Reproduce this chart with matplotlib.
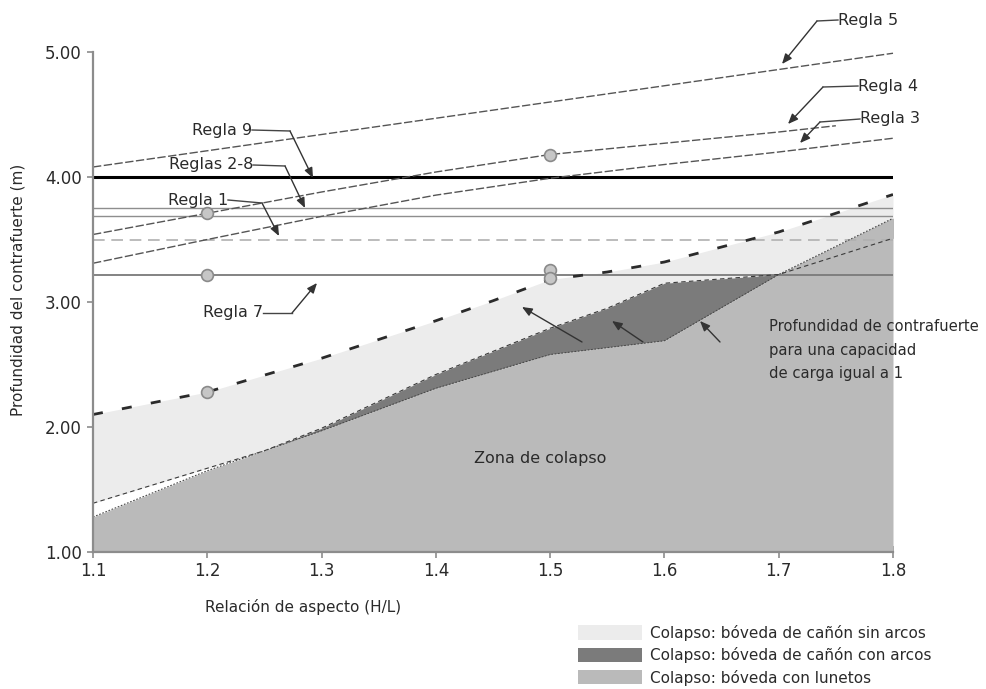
import numpy as np
import matplotlib
matplotlib.use("Agg")
import matplotlib.pyplot as plt
from matplotlib.lines import Line2D
from matplotlib.patches import Patch

# Relación de aspecto (H/L) grid
x_rule = [1.1, 1.2, 1.3, 1.4, 1.5, 1.6, 1.7, 1.8]

# sloped rules (m)
regla5 = [4.08, 4.21, 4.34, 4.47, 4.60, 4.73, 4.86, 4.99]
regla4_x = [1.1, 1.2, 1.3, 1.4, 1.5, 1.6, 1.7, 1.75]
regla4 = [3.54, 3.71, 3.88, 4.04, 4.18, 4.27, 4.36, 4.41]
regla3 = [3.31, 3.50, 3.685, 3.855, 3.99, 4.10, 4.20, 4.31]

# horizontal rules (m)
regla9 = 4.00
reglas28 = [3.75, 3.69]
regla1 = 3.50
regla7 = 3.22

# collapse boundaries
sin_arcos_x = [1.1, 1.2, 1.3, 1.4, 1.45, 1.5, 1.55, 1.6, 1.7, 1.8]
sin_arcos = [2.10, 2.28, 2.55, 2.85, 3.01, 3.18, 3.24, 3.32, 3.56, 3.86]
con_arcos_x = [1.1, 1.2, 1.25, 1.3, 1.4, 1.5, 1.55, 1.6, 1.7, 1.8]
con_arcos = [1.39, 1.67, 1.81, 1.99, 2.42, 2.79, 2.95, 3.15, 3.22, 3.51]
lunetos = [1.28, 1.65, 1.97, 2.31, 2.58, 2.69, 3.22, 3.67]

# circle markers
mark_x = [1.2, 1.2, 1.5, 1.5, 1.5, 1.2]
mark_y = [3.71, 3.22, 4.18, 3.26, 3.19, 2.28]

legend_labels = ["Colapso: bóveda de cañón sin arcos",
                 "Colapso: bóveda de cañón con arcos",
                 "Colapso: bóveda con lunetos"]

C_LIGHT = "#ececec"
C_DARK = "#7b7b7b"
C_MED = "#bababa"
TXT = "#2a2a2a"

plt.rcParams['font.family'] = ['DejaVu Sans']

fig = plt.figure(figsize=(9.86, 6.89), dpi=100)
ax = fig.add_axes([93/986, 137/689, 800/986, 500/689])
ax.set_xlim(1.1, 1.8)
ax.set_ylim(1.0, 5.0)

# fills on a common grid
xg = np.array(sorted(set(x_rule) | set(sin_arcos_x) | set(con_arcos_x)))
a_g = np.interp(xg, sin_arcos_x, sin_arcos)
b_g = np.interp(xg, con_arcos_x, con_arcos)
m_g = np.interp(xg, x_rule, lunetos)

ax.fill_between(xg, b_g, a_g, color=C_LIGHT, lw=0, zorder=1)
dark = xg >= 1.25
ax.fill_between(xg[dark], m_g[dark], b_g[dark], color=C_DARK, lw=0, zorder=2)
ax.fill_between(x_rule, 1.0, lunetos, color=C_MED, lw=0, zorder=3)

# boundary lines
ax.plot(sin_arcos_x, sin_arcos, color="#2b2b2b", lw=2.0,
        dashes=(3.6, 7.0), zorder=6)
ax.plot(con_arcos_x, con_arcos, color="#3a3a3a", lw=0.8,
        dashes=(4, 3), zorder=6)
ax.plot(x_rule, lunetos, color="#4a4a4a", lw=0.8, ls=(0, (1.5, 1.5)), zorder=6)

# horizontal rules
ax.axhline(regla9, color="black", lw=2.2, zorder=5)
for yv in reglas28:
    ax.axhline(yv, color="#8e8e8e", lw=1.0, zorder=5)
ax.axhline(regla1, color="#b0b0b0", lw=1.2, dashes=(7, 4), zorder=5)
ax.axhline(regla7, color="#7a7a7a", lw=1.3, zorder=5)

# sloped rules
ax.plot(x_rule, regla5, color="#555555", lw=1.0, dashes=(6, 1.8),
        zorder=5, clip_on=False)
ax.plot(regla4_x, regla4, color="#555555", lw=1.0, dashes=(6, 1.8), zorder=5)
ax.plot(x_rule, regla3, color="#555555", lw=1.0, dashes=(6, 1.8), zorder=5)

ax.plot(mark_x, mark_y, ls="none", marker="o", ms=8.5,
        mfc="#c6c6c6", mec="#8a8a8a", mew=1.2, zorder=7)

# axes styling
for s in ["top", "right"]:
    ax.spines[s].set_visible(False)
for s in ["left", "bottom"]:
    ax.spines[s].set_color("#8c8c8c")
    ax.spines[s].set_linewidth(1.6)
    ax.spines[s].set_zorder(8)
ax.set_xticks(x_rule)
ax.set_xticklabels(["%.1f" % v for v in x_rule])
ax.set_yticks([1, 2, 3, 4, 5])
ax.set_yticklabels(["1.00", "2.00", "3.00", "4.00", "5.00"])
ax.tick_params(axis="y", direction="out", length=4, width=1.2,
               color="#8c8c8c", labelsize=12, labelcolor=TXT, pad=4)
ax.tick_params(axis="x", direction="inout", length=9, width=1.2,
               color="#8c8c8c", labelsize=12, labelcolor=TXT, pad=3)
ax.set_facecolor("white")

fig.text(18/986, 1 - 290/689, "Profundidad del contrafuerte (m)",
         rotation=90, ha="center", va="center", fontsize=11, color=TXT)
fig.text(303/986, 1 - 607/689, "Relación de aspecto (H/L)",
         ha="center", va="center", fontsize=11, color=TXT)

ax.text(1.4335, 1.75, "Zona de colapso", ha="left", va="center",
        fontsize=11.5, color=TXT, zorder=9)
ax.text(1.6915, 2.616, "Profundidad de contrafuerte\npara una capacidad\nde carga igual a 1",
        ha="left", va="center", fontsize=10.6, color=TXT,
        linespacing=1.7, zorder=9)


def fpx(x, y):
    return (x, 689 - y)


def leader(label, tx, ty, ex, ey, hx, hy, side):
    ha = "left" if side == "right" else "right"
    fig.text(tx/986, 1 - ty/689, label, ha=ha, va="center",
             fontsize=11.5, color=TXT)
    fig.add_artist(Line2D([tx/986, ex/986], [1 - ty/689, 1 - ey/689],
                          color="#444444", lw=1.0))
    ax.annotate("", xy=fpx(hx, hy), xycoords="figure pixels",
                xytext=fpx(ex, ey), textcoords="figure pixels",
                arrowprops=dict(arrowstyle="-|>,head_length=0.6,head_width=0.25",
                                color="#333333", lw=1.0, shrinkA=0, shrinkB=0),
                zorder=9, annotation_clip=False)


leader("Regla 5", 838, 20, 817, 21, 782, 64, "right")
leader("Regla 4", 858, 86, 823, 87, 788, 124, "right")
leader("Regla 3", 860, 119, 820, 122, 800, 143, "right")
leader("Regla 9", 252, 130, 290, 131, 313, 178, "left")
leader("Reglas 2-8", 253, 165, 285, 166, 305, 208, "left")
leader("Regla 1", 228, 200, 262, 203, 279, 236, "left")
leader("Regla 7", 263, 313, 292, 313, 317, 283, "left")

# arrows pointing at the capacity-1 boundaries
for (x0, y0, x1, y1) in [(582, 342, 522, 307), (643, 342, 612, 321),
                         (720, 342, 700, 321)]:
    ax.annotate("", xy=fpx(x1, y1), xycoords="figure pixels",
                xytext=fpx(x0, y0), textcoords="figure pixels",
                arrowprops=dict(arrowstyle="-|>,head_length=0.6,head_width=0.25",
                                color="#333333", lw=1.0, shrinkA=0, shrinkB=0),
                zorder=9, annotation_clip=False)

handles = [Patch(facecolor=C_LIGHT, edgecolor="none"),
           Patch(facecolor=C_DARK, edgecolor="none"),
           Patch(facecolor=C_MED, edgecolor="none")]
fig.legend(handles, legend_labels, loc="upper left",
           bbox_to_anchor=(567/986, 1 - 614/689), frameon=False,
           fontsize=11, handlelength=4.2, handleheight=1.05,
           handletextpad=0.5, labelspacing=0.42, labelcolor=TXT,
           borderpad=0.2)

fig.savefig("out.png", dpi=100)
